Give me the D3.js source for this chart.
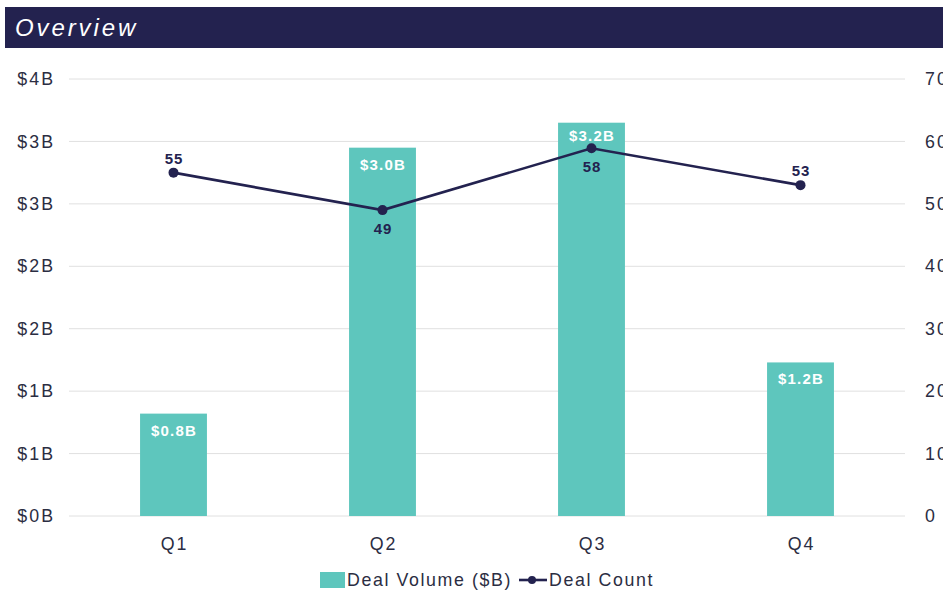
<!DOCTYPE html>
<html lang="en">
<head>
    <meta charset="UTF-8"/>
    <title>Overview</title>
    <script src="https://d3js.org/d3.v7.min.js"></script>
    <style>
        body, html {
            margin: 0;
            padding: 0;
            background: #fff;
            font-family: "Liberation Sans", Arial, sans-serif;
            overflow: hidden;
        }
        svg { display: block; }
    </style>
</head>
<body>
<svg id="chart" width="943" height="590"></svg>
<script>
    const quarters = ["Q1", "Q2", "Q3", "Q4"];
    const dealVolume = [0.82, 2.95, 3.15, 1.23];
    const volumeLabels = ["$0.8B", "$3.0B", "$3.2B", "$1.2B"];
    const dealCount = [55, 49, 58.9, 53];
    const countLabels = ["55", "49", "58", "53"];
    const countLabelSide = ["above", "below", "below", "above"];
    const leftTicks = [0, 0.5, 1, 1.5, 2, 2.5, 3, 3.5];
    const rightTicks = [0, 10, 20, 30, 40, 50, 60, 70];

    const navy = "#23224f";
    const teal = "#5ec6bd";
    const textColor = "#2b2d42";
    const font = "Liberation Sans, Arial, sans-serif";

    const svg = d3.select("#chart");
    const margin = { left: 69, right: 38, top: 79, bottom: 74 };
    const width = 943;
    const height = 590;

    // title bar
    svg.append("rect")
        .attr("x", 5).attr("y", 7)
        .attr("width", width - 5).attr("height", 41)
        .attr("fill", navy);
    svg.append("text")
        .attr("x", 15).attr("y", 36)
        .attr("fill", "#fff")
        .attr("font-size", 24)
        .attr("font-style", "italic")
        .attr("letter-spacing", 2.9)
        .text("Overview");

    const x = d3.scaleBand()
        .domain(quarters)
        .range([margin.left, width - margin.right])
        .paddingInner(0.68)
        .paddingOuter(0.34);
    const yLeft = d3.scaleLinear().domain([0, 3.5]).range([height - margin.bottom, margin.top]);
    const yRight = d3.scaleLinear().domain([0, 70]).range([height - margin.bottom, margin.top]);

    // gridlines
    svg.append("g")
        .selectAll("line")
        .data(leftTicks)
        .join("line")
        .attr("x1", margin.left)
        .attr("x2", width - margin.right)
        .attr("y1", d => yLeft(d))
        .attr("y2", d => yLeft(d))
        .attr("stroke", "#e0e0e0")
        .attr("stroke-width", 1);

    function styleAxisText(sel, size) {
        sel.attr("fill", textColor)
            .attr("font-size", size)
            .attr("font-family", font)
            .attr("letter-spacing", 2);
    }

    // left axis
    const leftAxis = svg.append("g")
        .attr("transform", `translate(${margin.left - 14},0)`)
        .call(d3.axisLeft(yLeft).tickValues(leftTicks).tickSize(0).tickFormat(d => "$" + Math.round(d + 0.001) + "B"));
    leftAxis.select(".domain").remove();
    styleAxisText(leftAxis.selectAll("text").attr("x", 0), 17.8);

    // right axis
    const rightAxis = svg.append("g")
        .attr("transform", `translate(${width - margin.right + 20},0)`)
        .call(d3.axisRight(yRight).tickValues(rightTicks).tickSize(0));
    rightAxis.select(".domain").remove();
    styleAxisText(rightAxis.selectAll("text").attr("x", 0), 17.8);

    // x axis
    const xAxis = svg.append("g")
        .attr("transform", `translate(0,${height - margin.bottom})`)
        .call(d3.axisBottom(x).tickSize(0).tickPadding(21));
    xAxis.select(".domain").remove();
    styleAxisText(xAxis.selectAll("text").attr("dx", 1), 17.8);

    const cx = i => x(quarters[i]) + x.bandwidth() / 2;

    // bars
    svg.append("g")
        .selectAll("rect")
        .data(dealVolume)
        .join("rect")
        .attr("x", (d, i) => x(quarters[i]))
        .attr("y", d => yLeft(d))
        .attr("width", x.bandwidth())
        .attr("height", d => yLeft(0) - yLeft(d))
        .attr("fill", teal);

    // bar labels sit inside the top; nudge up when a line point is close
    svg.append("g")
        .selectAll("text")
        .data(dealVolume)
        .join("text")
        .attr("x", (d, i) => cx(i) + 0.5)
        .attr("y", (d, i) => {
            const close = Math.abs(yRight(dealCount[i]) - yLeft(d)) < 35;
            return yLeft(d) + (close ? 18 : 22);
        })
        .attr("text-anchor", "middle")
        .attr("fill", "#fff")
        .attr("font-size", 15)
        .attr("font-weight", "bold")
        .attr("letter-spacing", 1.2)
        .text((d, i) => volumeLabels[i]);

    // line
    const line = d3.line()
        .x((d, i) => cx(i))
        .y(d => yRight(d));
    svg.append("path")
        .datum(dealCount)
        .attr("fill", "none")
        .attr("stroke", navy)
        .attr("stroke-width", 2.6)
        .attr("d", line);
    svg.append("g")
        .selectAll("circle")
        .data(dealCount)
        .join("circle")
        .attr("cx", (d, i) => cx(i))
        .attr("cy", d => yRight(d))
        .attr("r", 5)
        .attr("fill", navy);
    svg.append("g")
        .selectAll("text")
        .data(dealCount)
        .join("text")
        .attr("x", (d, i) => cx(i) + 0.5)
        .attr("y", (d, i) => countLabelSide[i] === "above" ? yRight(d) - 9 : yRight(d) + 24)
        .attr("text-anchor", "middle")
        .attr("fill", navy)
        .attr("font-size", 15)
        .attr("font-weight", "bold")
        .attr("letter-spacing", 1)
        .text((d, i) => countLabels[i]);

    // legend
    const legend = svg.append("g").attr("transform", "translate(320,580)");
    legend.append("rect")
        .attr("x", 0).attr("y", -8)
        .attr("width", 25).attr("height", 16)
        .attr("fill", teal);
    legend.append("text")
        .attr("x", 27).attr("y", 6)
        .attr("fill", textColor)
        .attr("font-size", 17.8)
        .attr("letter-spacing", 1.6)
        .text("Deal Volume ($B)");
    legend.append("line")
        .attr("x1", 199).attr("x2", 227)
        .attr("y1", 0).attr("y2", 0)
        .attr("stroke", navy)
        .attr("stroke-width", 2.6);
    legend.append("circle")
        .attr("cx", 212).attr("cy", 0)
        .attr("r", 4)
        .attr("fill", navy);
    legend.append("text")
        .attr("x", 229).attr("y", 6)
        .attr("fill", textColor)
        .attr("font-size", 17.8)
        .attr("letter-spacing", 1.6)
        .text("Deal Count");
</script>
</body>
</html>
